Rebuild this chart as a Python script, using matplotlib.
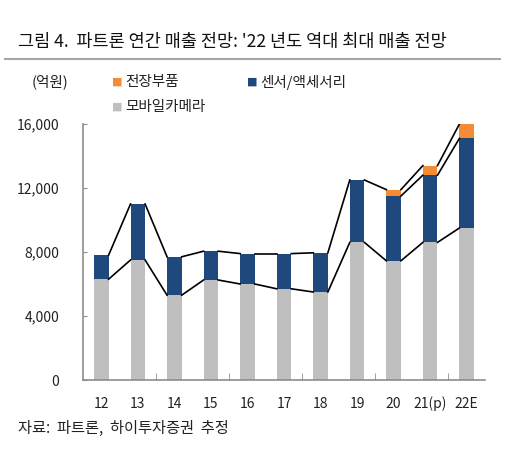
import matplotlib
matplotlib.use("Agg")
import matplotlib.pyplot as plt
from matplotlib.lines import Line2D
import numpy as np

plt.rcParams['font.family'] = ['Noto Sans CJK KR', 'DejaVu Sans']

# 데이터 (억원)
cats = ['12', '13', '14', '15', '16', '17', '18', '19', '20', '21(p)', '22E']
camera = [6300, 7500, 5300, 6250, 6000, 5700, 5500, 8600, 7450, 8600, 9500]
sensor = [1500, 3500, 2400, 1800, 1900, 2200, 2450, 3900, 4050, 4200, 5600]
auto = [0, 0, 0, 0, 0, 0, 0, 0, 400, 600, 900]

C_CAM = '#BFBFBF'
C_SEN = '#1F497D'
C_AUTO = '#F58B35'

W, H = 507, 457


def fx(px):
    return px / W


def fy(py):
    return 1 - py / H


fig = plt.figure(figsize=(W / 100, H / 100), dpi=100)
ax = fig.add_axes([fx(83), fy(380), fx(485) - fx(83), fy(124) - fy(380)])

x = np.arange(len(cats))
cam = np.array(camera, dtype=float)
sen = np.array(sensor, dtype=float)
aut = np.array(auto, dtype=float)
bw = 0.4

ax.bar(x, cam, bw, color=C_CAM, zorder=2)
ax.bar(x, sen, bw, bottom=cam, color=C_SEN, zorder=2)
ax.bar(x, aut, bw, bottom=cam + sen, color=C_AUTO, zorder=2)

# 계열선 (막대 사이 연결선)
lv1 = cam
lv2 = cam + sen
lv3 = cam + sen + aut
for i in range(len(cats) - 1):
    xs = [x[i] + bw / 2, x[i + 1] - bw / 2]
    ax.plot(xs, [lv1[i], lv1[i + 1]], color='black', lw=1.2, zorder=3)
    ax.plot(xs, [lv3[i], lv3[i + 1]], color='black', lw=1.2, zorder=3)
    if aut[i] > 0 and aut[i + 1] > 0:
        ax.plot(xs, [lv2[i], lv2[i + 1]], color='black', lw=1.2, zorder=3)

ax.set_xlim(-0.5, len(cats) - 0.5)
ax.set_ylim(0, 16000)
ax.set_yticks([0, 4000, 8000, 12000, 16000])
ax.set_yticklabels([f'{v:,}' for v in [0, 4000, 8000, 12000, 16000]])
ax.set_xticks(x)
ax.set_xticklabels(cats)
ax.set_xticks([1.5, 3.5, 5.5, 7.5, 9.5], minor=True)

for s in ['top', 'right']:
    ax.spines[s].set_visible(False)
for s in ['left', 'bottom']:
    ax.spines[s].set_color('#8C8C8C')
    ax.spines[s].set_linewidth(1.2)

ax.tick_params(axis='y', direction='in', length=3, color='#8C8C8C',
               labelsize=10, pad=17, labelcolor='#222222')
ax.tick_params(axis='x', which='major', length=0, labelsize=10, pad=12,
               labelcolor='#222222')
ax.tick_params(axis='x', which='minor', direction='in', length=5,
               color='#8C8C8C')

# 제목 + 구분선
fig.text(fx(18), fy(42), "그림 4.  파트론 연간 매출 전망: '22 년도 역대 최대 매출 전망",
         fontsize=12.6, va='center', ha='left', color='#111111')
fig.add_artist(Line2D([fx(5), fx(500)], [fy(59), fy(59)], color='#A6A6A6', lw=1.5))

# 단위 + 범례
fig.text(fx(32), fy(82), '(억원)', fontsize=10.5, va='center', ha='left', color='#222222')
legend_items = [(117, 82, C_AUTO, '전장부품'),
                (252, 82, C_SEN, '센서/액세서리'),
                (117, 107, C_CAM, '모바일카메라')]
for px, py, c, lab in legend_items:
    fig.text(fx(px), fy(py), '■', fontsize=8, color=c, va='center', ha='center',
             family=['DejaVu Sans'])
    fig.text(fx(px + 8), fy(py), lab, fontsize=10.5, va='center', ha='left',
             color='#222222')

# 출처
fig.text(fx(18), fy(428), '자료:  파트론,  하이투자증권  추정', fontsize=11,
         va='center', ha='left', color='#222222')

fig.savefig('out.png', dpi=100)
